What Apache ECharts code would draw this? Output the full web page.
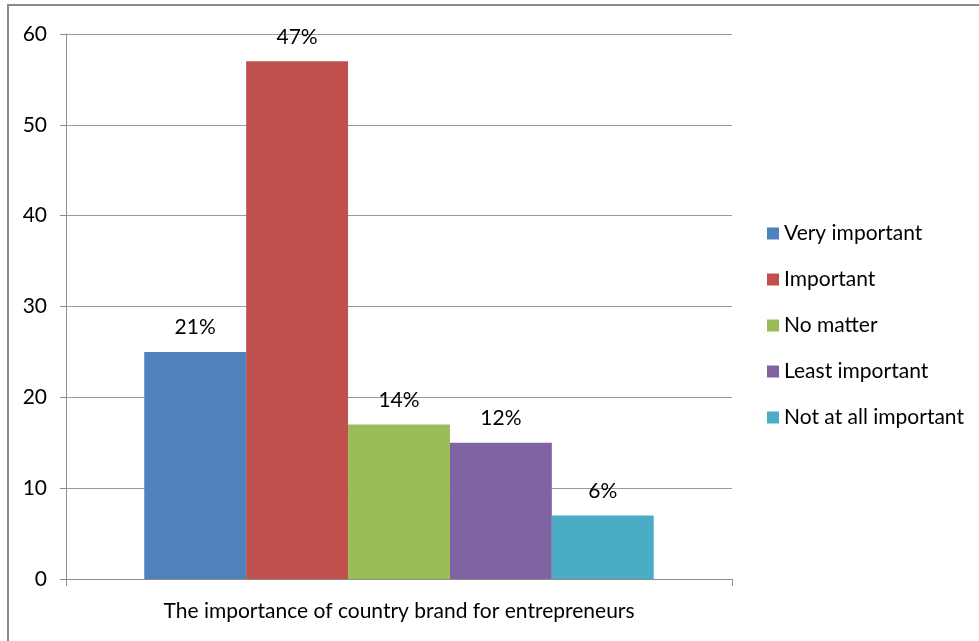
<!DOCTYPE html>
<html>
<head>
<meta charset="utf-8">
<script src="https://cdn.jsdelivr.net/npm/echarts@6/dist/echarts.min.js"></script>
<style>
html,body{margin:0;padding:0;background:#fff;}
#frame{position:absolute;left:7px;top:4px;width:990px;height:660px;border-left:2px solid #8a8a8a;border-top:2px solid #8a8a8a;}
#main{position:absolute;left:0;top:0;width:979px;height:641px;}
</style>
</head>
<body>
<div id="frame"></div>
<div id="main"></div>
<script>
const categories = ['The importance of country brand for entrepreneurs'];
const seriesNames = ['Very important', 'Important', 'No matter', 'Least important', 'Not at all important'];
const seriesValues = [25, 57, 17, 15, 7];
const seriesLabels = ['21%', '47%', '14%', '12%', '6%'];
const yTicks = [0, 10, 20, 30, 40, 50, 60];
const colors = ['#4F81BD', '#C0504D', '#9BBB59', '#8064A2', '#4BACC6'];

const FONT = 'Lato, "Open Sans", sans-serif';
const chart = echarts.init(document.getElementById('main'));
chart.setOption({
  animation: false,
  color: colors,
  grid: {left: 66, right: 247, top: 34, bottom: 62, containLabel: false},
  legend: {
    orient: 'vertical', left: 762, top: 218,
    itemWidth: 12, itemHeight: 12, itemGap: 25,
    icon: 'rect',
    textStyle: {fontFamily: FONT, fontSize: 21, color: '#000', lineHeight: 21},
    data: seriesNames
  },
  xAxis: {
    type: 'category', data: categories,
    axisLine: {lineStyle: {color: '#8c8c8c', width: 1}},
    axisTick: {show: true, length: 7, lineStyle: {color: '#8c8c8c'}},
    axisLabel: {fontFamily: FONT, fontSize: 21, color: '#000', margin: 22}
  },
  yAxis: {
    type: 'value', min: 0, max: 60, interval: 10,
    axisLine: {show: true, lineStyle: {color: '#8c8c8c'}},
    axisTick: {show: true, length: 6, lineStyle: {color: '#8c8c8c'}},
    splitLine: {lineStyle: {color: '#9a9a9a'}},
    axisLabel: {fontFamily: FONT, fontSize: 21, color: '#000', margin: 19}
  },
  series: seriesNames.map((n, i) => ({
    name: n, type: 'bar', data: [seriesValues[i]],
    barGap: '0%', barCategoryGap: '23.5%',
    label: {show: true, position: 'top', distance: 14, formatter: () => seriesLabels[i],
      fontFamily: FONT, fontSize: 21, color: '#000'}
  }))
});
</script>
</body>
</html>
